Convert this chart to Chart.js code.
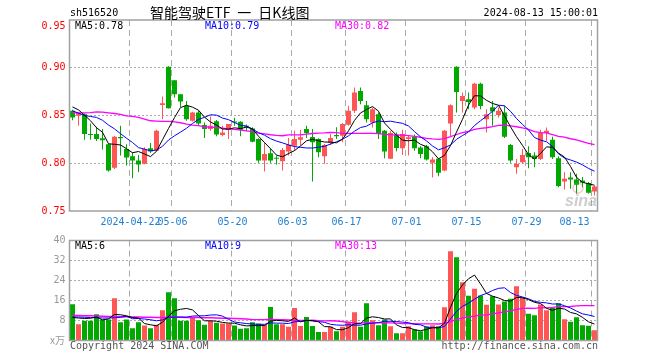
<!DOCTYPE html>
<html><head><meta charset="utf-8">
<script src="https://cdn.jsdelivr.net/npm/chart.js@4.4.1/dist/chart.umd.min.js"></script>
<style>
html,body{margin:0;padding:0;background:#fff;}
#wrap{position:relative;width:660px;height:360px;background:#fff;overflow:hidden;}
canvas{position:absolute;left:0;}
#c1{top:0}
#c2{top:230px}
</style></head><body>
<div id="wrap"><canvas id="c1" width="660" height="230"></canvas><canvas id="c2" width="660" height="130"></canvas></div>
<script>
const dates = ['04-08','04-09','04-10','04-11','04-12','04-15','04-16','04-17','04-18','04-19','04-22','04-23','04-24','04-25','04-26','04-29','04-30',
'05-06','05-07','05-08','05-09','05-10','05-13','05-14','05-15','05-16','05-17','05-20','05-21','05-22','05-23','05-24','05-27','05-28','05-29','05-30','05-31',
'06-03','06-04','06-05','06-06','06-07','06-11','06-12','06-13','06-14','06-17','06-18','06-19','06-20','06-21','06-24','06-25','06-26','06-27','06-28',
'07-01','07-02','07-03','07-04','07-05','07-08','07-09','07-10','07-11','07-12','07-15','07-16','07-17','07-18','07-19','07-22','07-23','07-24','07-25','07-26','07-29','07-30','07-31',
'08-01','08-02','08-05','08-06','08-07','08-08','08-09','08-12','08-13'];

const opens = [.855,.8497,.8514,.8306,.8306,.8261,.8198,.7952,.8275,.815,
.8073,.8028,.7994,.8157,.8132,.8611,.901,.8868,.8722,.86,
.8445,.8531,.84,.8358,.8441,.8296,.8348,.8438,.8434,.8393,
.8365,.8254,.8028,.8104,.8053,.8021,.8122,.8184,.8247,.8358,
.8275,.8254,.8073,.8212,.8296,.8289,.8403,.8549,.8757,.8608,
.8427,.8514,.834,.8046,.8302,.8157,.8254,.8278,.8164,.8178,
.8004,.8046,.7924,.8417,.901,.8653,.867,.8584,.8833,.8462,
.8587,.8504,.8531,.8191,.7959,.8011,.8108,.808,.8045,.8316,
.8247,.8053,.781,.7851,.783,.782,.7792,.7705];
const highs = [.856,.853,.852,.8417,.8382,.8358,.8205,.8285,.8393,.820,
.8115,.8087,.8167,.8212,.8351,.8698,.9017,.8868,.8722,.8653,
.8538,.8549,.8427,.849,.8452,.8393,.841,.8476,.8441,.8407,
.8376,.8261,.8219,.8157,.808,.8159,.8264,.834,.8351,.8393,
.8358,.8261,.8202,.8306,.8376,.8421,.8601,.8792,.8792,.8653,
.8584,.8531,.8347,.834,.8323,.8351,.8289,.8302,.8178,.8191,
.8063,.8053,.8347,.8618,.9017,.874,.874,.8844,.8844,.8566,
.8653,.8584,.86,.8202,.8045,.815,.8178,.8115,.8351,.8375,
.8278,.8073,.7907,.7907,.789,.7855,.7803,.7768];
const lows = [.845,.8393,.8247,.8247,.8233,.8143,.7914,.7941,.808,.7976,
.7844,.7907,.799,.8108,.8122,.8462,.8573,.8688,.859,.8445,
.8438,.8393,.8264,.834,.8282,.8282,.8254,.8393,.8282,.8337,
.8219,.8004,.7914,.8004,.7987,.7924,.808,.8132,.8184,.8264,
.781,.8063,.7994,.819,.8254,.8219,.8393,.8525,.8618,.8427,
.8375,.8254,.8053,.8046,.8125,.8087,.808,.8132,.8053,.8028,
.7851,.7865,.7917,.8285,.8531,.8531,.8566,.8566,.8566,.8323,
.8392,.8479,.8264,.8004,.789,.7993,.7948,.7959,.8035,.8236,
.8045,.775,.7726,.7733,.7681,.775,.7681,.7663];
const closes = [.848,.8525,.8306,.8296,.8254,.824,.7924,.8278,.8261,.806,
.8028,.7987,.815,.8122,.8341,.8629,.8577,.8722,.8646,.8462,
.8531,.8417,.8358,.8393,.8302,.8323,.841,.8427,.8351,.8382,
.8226,.8028,.8098,.8028,.8046,.8139,.8195,.8254,.8271,.8316,
.8219,.8115,.8191,.8264,.8282,.841,.8549,.874,.8653,.8462,
.8566,.8306,.8122,.8316,.816,.8306,.8271,.8157,.8098,.8038,
.8038,.79,.834,.8608,.8747,.8705,.8642,.8833,.86,.8514,
.8542,.8549,.8278,.8028,.7993,.8087,.8063,.8045,.8323,.834,
.8063,.7761,.7837,.783,.7775,.7795,.7691,.7757];
const volumes = [14.5,6.5,7.9,7.9,10.5,8.4,8.4,16.9,7.3,8.4,
4.9,7.3,6.0,4.9,6.3,12.1,19.3,16.9,7.9,7.9,
9.2,8.1,6.3,7.9,7.1,6.8,6.8,6.0,4.7,4.9,
7.3,6.8,6.3,13.4,6.5,6.5,5.5,13.0,5.8,9.4,
5.8,3.4,3.4,5.5,3.7,5.5,7.6,11.3,5.5,14.9,
8.1,6.1,8.4,5.7,2.9,2.9,5.7,4.4,3.7,5.6,
6.1,5.7,13.3,35.7,33.3,23.3,17.9,20.7,18.0,14.3,
17.7,14.4,15.6,16.7,21.7,17.1,10.7,10.1,14.4,12.1,
13.1,14.9,8.5,7.5,9.3,6.1,5.9,4.1];

const ma5PriceLead = [.859,.8559,.8504,.8445];
const ma10PriceLead = [.8549,.8525,.850,.849,.848,.845,.840,.836,.831];
const ma30PriceLead = [.8531,.8528,.8528,.8531,.8538,.8535,.8528,.8521,.8511,.8497,
.849,.848,.8462,.8445,.8441,.8438,.8438,.8434,.8424,.841,
.840,.8393,.8382,.8379,.8372,.8368,.8361,.8355,.8348];
const ma5VolLead = [9.2,9.0,8.8,8.9];
const ma10VolLead = [9.4,9.4,9.3,9.2,9.1,9.0,9.0,9.1,9.3];
const ma30VolLead = [10.0,10.0,9.9,9.9,9.8,9.7,9.6,9.6,9.5,9.5,9.4,9.4,9.3,9.3,9.2,9.2,9.3,9.3,9.3,9.2,9.2,9.2,9.1,9.1,9.0,8.9,8.9,8.8,8.7];

const tickDates = ['04-22','05-06','05-20','06-03','06-17','07-01','07-15','07-29','08-13'];
const tickText  = ['2024-04-22','05-06','05-20','06-03','06-17','07-01','07-15','07-29','08-13'];
const priceTicks = [0.75,0.80,0.85,0.90,0.95];
const volTicks = [0,8,16,24,32,40];

const N = dates.length;
const MONO = '"DejaVu Sans Mono", monospace';
const RED = '#ff5555', GREEN = '#00a800';
const candleColors = closes.map((c,i)=> c >= opens[i] ? RED : GREEN);

function movingAverage(vals, n, lead){
  return vals.map((v,i)=>{
    if(i < n-1) return lead[i];
    let s=0; for(let k=i-n+1;k<=i;k++) s+=vals[k];
    return s/n;
  });
}
const ma5 = movingAverage(closes,5,ma5PriceLead);
const ma10 = movingAverage(closes,10,ma10PriceLead);
const ma30 = movingAverage(closes,30,ma30PriceLead);
const vma5 = movingAverage(volumes,5,ma5VolLead);
const vma10 = movingAverage(volumes,10,ma10VolLead);
const vma30 = movingAverage(volumes,30,ma30VolLead);

function xScale(showLabels, h){
  return {
    type:'category', labels: dates, offset:true,
    grid:{ offset:true, drawTicks:false, lineWidth:1,
      color: ctx => (ctx.index!==undefined && ctx.tick && tickDates.includes(dates[ctx.index])) ? '#aaaaaa' : 'rgba(0,0,0,0)' },
    border:{ display:false, dash:[6,4] },
    ticks:{ display:showLabels, autoSkip:false, maxRotation:0, minRotation:0, padding:5, labelOffset:-2,
      color:'#1f7fd0', font:{family:MONO, size:10},
      callback:(v,i)=>{ const k=tickDates.indexOf(dates[i]); if(k<0) return ''; return i===N-1 ? tickText[k]+'      ' : tickText[k]; } },
    afterFit: s=>{ s.height = h; }
  };
}
function lineDs(data,color,w){
  return {type:'line', data, borderColor:color, borderWidth:w||1, pointRadius:0, tension:0, fill:false, order:0};
}
function border(chart){
  const a = chart.chartArea, c = chart.ctx;
  c.save(); c.strokeStyle='#a0a0a0'; c.lineWidth=1.5;
  c.strokeRect(a.left, a.top, a.right-a.left, a.bottom-a.top); c.restore();
}

new Chart(document.getElementById('c1'), {
  data:{ labels: dates, datasets:[
    lineDs(ma5,'#000000'), lineDs(ma10,'#0000ff'), lineDs(ma30,'#ff00ff',1.3),
    {type:'bar', data: opens.map((o,i)=>[o, closes[i]]), backgroundColor:candleColors, barThickness:5, grouped:false, minBarLength:1, inflateAmount:0, order:1},
    {type:'bar', data: lows.map((l,i)=>[l, highs[i]]), backgroundColor:candleColors, barThickness:1, grouped:false, inflateAmount:0, order:2}
  ]},
  options:{
    responsive:false, animation:false, devicePixelRatio:1,
    layout:{ padding:{ top:20, right:62.5, left:0, bottom:0 } },
    plugins:{ legend:{display:false}, tooltip:{enabled:false} },
    scales:{
      x: xScale(true, 19),
      y: { type:'linear', position:'left', min:0.75, max:0.95,
        afterBuildTicks: s=>{ s.ticks = priceTicks.map(v=>({value:v})); },
        ticks:{ padding:4, color:'#ff0000', font:{family:MONO, size:10},
          callback:(v)=>{ const s=Number(v).toFixed(2); return Math.abs(v-0.95)<1e-6 ? ['', s] : s; } },
        grid:{ drawTicks:false, color: ctx => { const v=ctx.tick&&ctx.tick.value; return (v>0.76 && v<0.94)?'#aaaaaa':'rgba(0,0,0,0)'; } },
        border:{ display:false, dash:[2,2] },
        afterFit: s=>{ s.width = 69.5; } }
    }
  },
  plugins:[{ id:'deco', afterDraw(chart){
    border(chart);
    const c = chart.ctx; c.save();
    c.textBaseline='middle';
    c.font = '10px ' + MONO; c.fillStyle='#000'; c.textAlign='left';
    c.fillText('sh516520', 70, 13);
    c.textAlign='right'; c.fillText('2024-08-13 15:00:01', 598, 13);
    c.textAlign='left';
    c.font = '14px "Noto Sans CJK SC"'; c.fillText('智能驾驶ETF\u2002一\u2002日K线图', 150, 13);
    c.font = '10px ' + MONO;
    c.fillStyle='#000000'; c.fillText('MA5:' + ma5[N-1].toFixed(2), 75, 26);
    c.fillStyle='#0000ff'; c.fillText('MA10:' + ma10[N-1].toFixed(2), 205, 26);
    c.fillStyle='#ff00ff'; c.fillText('MA30:' + ma30[N-1].toFixed(2), 335, 26);
    c.globalAlpha = 0.45; c.fillStyle='#909090'; c.font = 'italic bold 16px "Liberation Sans"';
    c.fillText('sina', 565, 202);
    c.globalAlpha = 0.35; c.strokeStyle='#e06060'; c.lineWidth=1.5;
    c.beginPath(); c.arc(578, 188, 5, 0, Math.PI*2); c.stroke();
    c.restore();
  }}]
});

new Chart(document.getElementById('c2'), {
  data:{ labels: dates, datasets:[
    lineDs(vma5,'#000000'), lineDs(vma10,'#0000ff'), lineDs(vma30,'#ff00ff',1.3),
    {type:'bar', data: volumes, backgroundColor:candleColors, barThickness:5, inflateAmount:0, order:1}
  ]},
  options:{
    responsive:false, animation:false, devicePixelRatio:1,
    layout:{ padding:{ top:10.5, right:62.5, left:0, bottom:0 } },
    plugins:{ legend:{display:false}, tooltip:{enabled:false} },
    scales:{
      x: xScale(false, 19.5),
      y: { type:'linear', position:'left', min:0, max:40,
        afterBuildTicks: s=>{ s.ticks = volTicks.map(v=>({value:v})); },
        ticks:{ padding:4, color:'#999999', font:{family:MONO, size:10},
          callback:(v)=> v===0 ? '' : String(v) },
        grid:{ drawTicks:false, color: ctx => { const v=ctx.tick&&ctx.tick.value; return (v>0 && v<40)?'#aaaaaa':'rgba(0,0,0,0)'; } },
        border:{ display:false, dash:[2,2] },
        afterFit: s=>{ s.width = 69.5; } }
    }
  },
  plugins:[{ id:'deco2', afterDraw(chart){
    border(chart);
    const c = chart.ctx; c.save();
    c.textBaseline='middle'; c.textAlign='left';
    c.font = '10px ' + MONO;
    c.fillStyle='#000000'; c.fillText('MA5:' + Math.floor(vma5[N-1]), 75, 16);
    c.fillStyle='#0000ff'; c.fillText('MA10:' + Math.floor(vma10[N-1]), 205, 16);
    c.fillStyle='#ff00ff'; c.fillText('MA30:' + Math.floor(vma30[N-1]), 335, 16);
    c.fillStyle='#555555'; c.fillText('Copyright 2024 SINA.COM', 70, 116);
    c.textAlign='right'; c.fillText('http://finance.sina.com.cn', 598, 116);
    c.fillStyle='#999999'; c.font = '10px "Noto Sans CJK SC"'; c.fillText('x万', 65, 110);
    c.restore();
  }}]
});
</script>
</body></html>
